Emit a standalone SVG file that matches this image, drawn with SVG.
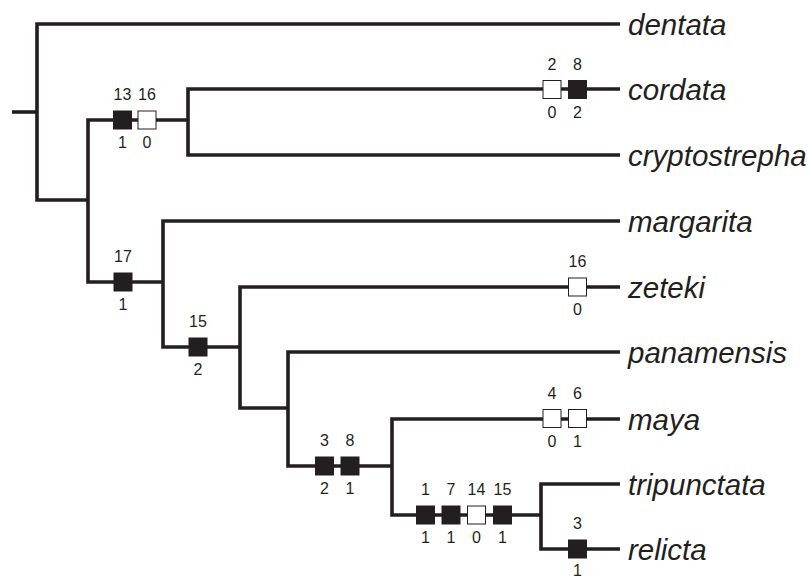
<svg xmlns="http://www.w3.org/2000/svg" width="809" height="577" viewBox="0 0 809 577">
  <style>
    .br { fill: none; stroke: #231f20; stroke-width: 3.6; stroke-linejoin: miter; stroke-linecap: butt; }
    .on { fill: #231f20; stroke: #231f20; stroke-width: 1; }
    .off { fill: #ffffff; stroke: #231f20; stroke-width: 1; }
    .ch { font-family: "Liberation Sans", Arial, sans-serif; font-size: 16px; fill: #231f20; text-anchor: middle; }
    .tx { font-family: "Liberation Sans", Arial, sans-serif; font-size: 29.5px; font-style: italic; fill: #231f20; }
  </style>
  <rect width="809" height="577" fill="#ffffff"/>

  <!-- tree branches -->
  <g id="connectors">
    <path class="br" d="M12,112 H37"/>
    <path class="br" d="M620,24 H37 V200 H88"/>
    <path class="br" d="M188,120 H88 V282 H163"/>
    <path class="br" d="M620,89 H188 V155 H620"/>
    <path class="br" d="M620,221 H163 V347 H240"/>
    <path class="br" d="M620,287 H240 V408 H288"/>
    <path class="br" d="M620,352 H288 V466 H392"/>
    <path class="br" d="M620,419 H392 V515 H541"/>
    <path class="br" d="M620,484 H541 V549 H620"/>
  </g>

  <!-- character state changes on branches -->
  <g id="changes-cordata-clade">
    <rect class="on" x="113.5" y="111" width="18" height="18"/>
    <text class="ch" x="122.5" y="100">13</text><text class="ch" x="122.5" y="148">1</text>
    <rect class="off" x="138" y="111" width="18" height="18"/>
    <text class="ch" x="147" y="100">16</text><text class="ch" x="147" y="148">0</text>
  </g>
  <g id="changes-cordata">
    <rect class="off" x="543" y="80.5" width="18" height="18"/>
    <text class="ch" x="552" y="69.5">2</text><text class="ch" x="552" y="117.5">0</text>
    <rect class="on" x="568.5" y="80.5" width="18" height="18"/>
    <text class="ch" x="577.5" y="69.5">8</text><text class="ch" x="577.5" y="117.5">2</text>
  </g>
  <g id="changes-17">
    <rect class="on" x="114" y="273" width="18" height="18"/>
    <text class="ch" x="123" y="262">17</text><text class="ch" x="123" y="310">1</text>
  </g>
  <g id="changes-15">
    <rect class="on" x="189" y="338" width="18" height="18"/>
    <text class="ch" x="198" y="327">15</text><text class="ch" x="198" y="375">2</text>
  </g>
  <g id="changes-zeteki">
    <rect class="off" x="568.5" y="278" width="18" height="18"/>
    <text class="ch" x="577.5" y="267">16</text><text class="ch" x="577.5" y="315">0</text>
  </g>
  <g id="changes-3-8">
    <rect class="on" x="315.5" y="457" width="18" height="18"/>
    <text class="ch" x="324.5" y="446">3</text><text class="ch" x="324.5" y="494">2</text>
    <rect class="on" x="341" y="457" width="18" height="18"/>
    <text class="ch" x="350" y="446">8</text><text class="ch" x="350" y="494">1</text>
  </g>
  <g id="changes-maya">
    <rect class="off" x="543" y="409.5" width="18" height="18"/>
    <text class="ch" x="552" y="398.5">4</text><text class="ch" x="552" y="446.5">0</text>
    <rect class="off" x="568.5" y="409.5" width="18" height="18"/>
    <text class="ch" x="577.5" y="398.5">6</text><text class="ch" x="577.5" y="446.5">1</text>
  </g>
  <g id="changes-tripunctata-clade">
    <rect class="on" x="416.5" y="506" width="18" height="18"/>
    <text class="ch" x="425.5" y="495">1</text><text class="ch" x="425.5" y="543">1</text>
    <rect class="on" x="442" y="506" width="18" height="18"/>
    <text class="ch" x="451" y="495">7</text><text class="ch" x="451" y="543">1</text>
    <rect class="off" x="467.5" y="506" width="18" height="18"/>
    <text class="ch" x="476.5" y="495">14</text><text class="ch" x="476.5" y="543">0</text>
    <rect class="on" x="493.5" y="506" width="18" height="18"/>
    <text class="ch" x="502.5" y="495">15</text><text class="ch" x="502.5" y="543">1</text>
  </g>
  <g id="changes-relicta">
    <rect class="on" x="568.5" y="540" width="18" height="18"/>
    <text class="ch" x="577.5" y="529">3</text><text class="ch" x="577.5" y="575.5">1</text>
  </g>

  <!-- taxa -->
  <g id="dentata"><text class="tx" x="628" y="34.5">dentata</text></g>
  <g id="cordata"><text class="tx" x="628" y="99.5">cordata</text></g>
  <g id="cryptostrepha"><text class="tx" x="628" y="165.5">cryptostrepha</text></g>
  <g id="margarita"><text class="tx" x="628" y="231.5">margarita</text></g>
  <g id="zeteki"><text class="tx" x="628" y="297.5">zeteki</text></g>
  <g id="panamensis"><text class="tx" x="628" y="362.5">panamensis</text></g>
  <g id="maya"><text class="tx" x="628" y="429.5">maya</text></g>
  <g id="tripunctata"><text class="tx" x="628" y="494.5">tripunctata</text></g>
  <g id="relicta"><text class="tx" x="628" y="559.5">relicta</text></g>
</svg>
